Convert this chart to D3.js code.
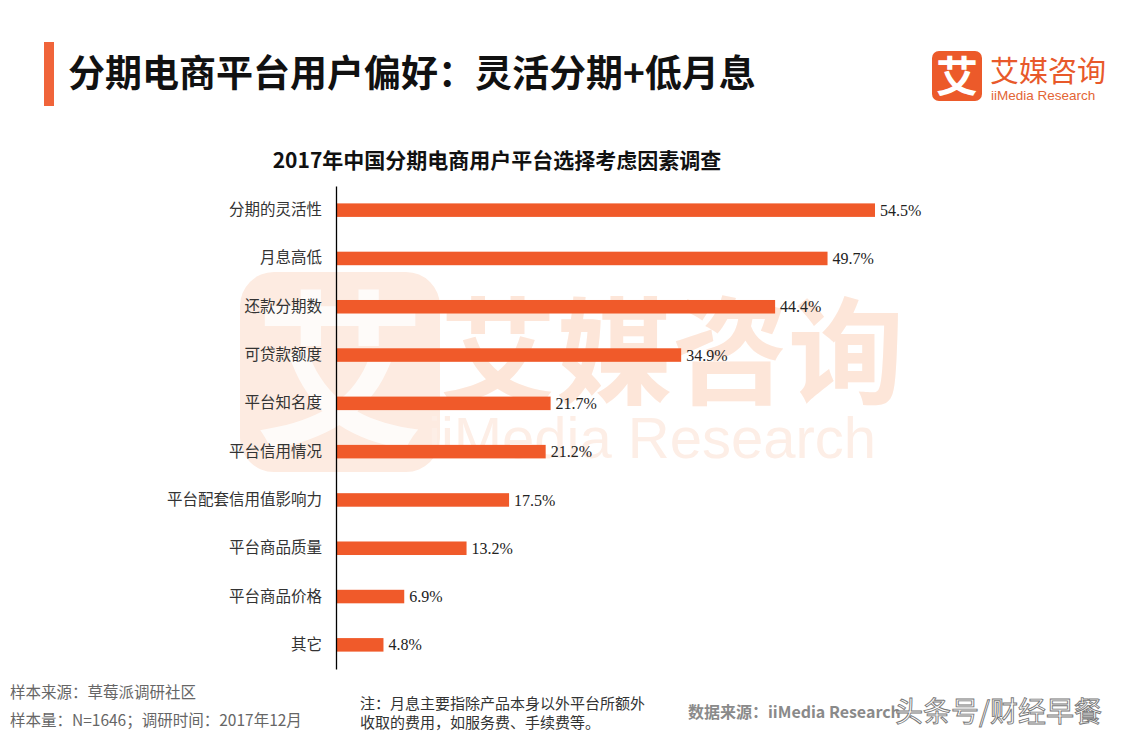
<!DOCTYPE html>
<html lang="zh">
<head>
<meta charset="utf-8">
<title>分期电商平台用户偏好</title>
<script src="https://d3js.org/d3.v7.min.js"></script>
<style>
  body { margin: 0; background: #fff; }
  svg { display: block; font-family: "Noto Sans CJK SC", "Noto Sans", sans-serif; }
</style>
</head>
<body>
<script>
// 数据
var categories = ["分期的灵活性", "月息高低", "还款分期数", "可贷款额度", "平台知名度",
                  "平台信用情况", "平台配套信用值影响力", "平台商品质量", "平台商品价格", "其它"];
var values = [54.5, 49.7, 44.4, 34.9, 21.7, 21.2, 17.5, 13.2, 6.9, 4.8];

var w = 1133, h = 737;
var orange = "#f05a2a";

var svg = d3.select("body").append("svg")
    .attr("width", w)
    .attr("height", h);

// 背景水印 (很淡)
var wm = svg.append("g").attr("class", "watermark");
wm.append("rect")
    .attr("x", 240).attr("y", 272)
    .attr("width", 200).attr("height", 200)
    .attr("rx", 34)
    .attr("fill", "#fdebe1");
wm.append("text")
    .attr("x", 340).attr("y", 435)
    .attr("text-anchor", "middle")
    .attr("font-size", 170).attr("font-weight", 700)
    .attr("fill", "#fff").attr("opacity", 0.8)
    .text("艾");
wm.append("text")
    .attr("x", 440).attr("y", 395)
    .attr("font-size", 116).attr("font-weight", 700)
    .attr("fill", "#fde6d9")
    .text("艾媒咨询");
wm.append("text")
    .attr("x", 428).attr("y", 458)
    .attr("font-family", "Liberation Sans, Arial, sans-serif")
    .attr("font-size", 58)
    .attr("fill", "#fdeee6")
    .text("iiMedia Research");

// 标题
svg.append("rect")
    .attr("x", 44).attr("y", 42)
    .attr("width", 10).attr("height", 64)
    .attr("fill", "#f0643a");
svg.append("text")
    .attr("x", 68).attr("y", 87)
    .attr("font-size", 37).attr("font-weight", 700)
    .attr("fill", "#111")
    .text("分期电商平台用户偏好：灵活分期+低月息");

// Logo
svg.append("rect")
    .attr("x", 932).attr("y", 51)
    .attr("width", 50).attr("height", 50)
    .attr("rx", 7)
    .attr("fill", "#ec5a2a");
svg.append("text")
    .attr("x", 957).attr("y", 92)
    .attr("text-anchor", "middle")
    .attr("font-size", 42).attr("font-weight", 700)
    .attr("fill", "#fff")
    .text("艾");
svg.append("text")
    .attr("x", 990).attr("y", 82)
    .attr("font-size", 29)
    .attr("fill", "#e8592b")
    .text("艾媒咨询");
svg.append("text")
    .attr("x", 991).attr("y", 100)
    .attr("font-family", "Liberation Sans, Arial, sans-serif")
    .attr("font-size", 13.5)
    .attr("fill", "#e36535")
    .text("iiMedia Research");

// 图表标题
svg.append("text")
    .attr("x", 497).attr("y", 168)
    .attr("text-anchor", "middle")
    .attr("font-size", 21).attr("font-weight", 700)
    .attr("fill", "#111")
    .text("2017年中国分期电商用户平台选择考虑因素调查");

// 比例尺
var x0 = 336;
var xScale = d3.scaleLinear()
    .domain([0, 60])
    .range([x0, x0 + 593.4]);

var yScale = d3.scaleBand()
    .domain(categories)
    .range([186, 669])
    .paddingInner(0.72)
    .paddingOuter(0.36);

// 条形
svg.selectAll("rect.bar")
    .data(values)
    .enter()
    .append("rect")
    .attr("class", "bar")
    .attr("x", xScale(0))
    .attr("y", function(d, i) { return yScale(categories[i]); })
    .attr("width", function(d) { return xScale(d) - xScale(0); })
    .attr("height", yScale.bandwidth())
    .attr("fill", orange);

// 数值标签
svg.selectAll("text.val")
    .data(values)
    .enter()
    .append("text")
    .attr("class", "val")
    .attr("x", function(d) { return xScale(d) + 5; })
    .attr("y", function(d, i) { return yScale(categories[i]) + yScale.bandwidth() / 2; })
    .attr("dy", "0.35em")
    .attr("font-family", "Liberation Serif, DejaVu Serif, serif")
    .attr("font-size", 16)
    .attr("fill", "#222")
    .text(function(d) { return d.toFixed(1) + "%"; });

// 纵轴
var yAxis = d3.axisLeft(yScale)
    .tickSize(0)
    .tickPadding(14);

var gy = svg.append("g")
    .attr("transform", "translate(" + x0 + ",0)")
    .call(yAxis);
gy.select(".domain").attr("stroke", "#000").attr("stroke-width", 1.3);
gy.selectAll(".tick text")
    .attr("font-family", "Noto Sans CJK SC, sans-serif")
    .attr("font-size", 15.5)
    .attr("fill", "#333");

// 底部说明
var foot = svg.append("g")
    .attr("font-size", 15.5)
    .attr("fill", "#666");
foot.append("text").attr("x", 10).attr("y", 698).text("样本来源：草莓派调研社区");
foot.append("text").attr("x", 10).attr("y", 726).text("样本量：N=1646；调研时间：2017年12月");

var note = svg.append("g")
    .attr("font-size", 15)
    .attr("fill", "#333");
note.append("text").attr("x", 360).attr("y", 709).text("注：月息主要指除产品本身以外平台所额外");
note.append("text").attr("x", 360).attr("y", 728).text("收取的费用，如服务费、手续费等。");

svg.append("text")
    .attr("x", 688).attr("y", 718)
    .attr("font-size", 16).attr("font-weight", 700)
    .attr("fill", "#8a8a8a")
    .text("数据来源：iiMedia Research");

svg.append("text")
    .attr("x", 895).attr("y", 722)
    .attr("font-size", 28)
    .attr("fill", "#fff")
    .attr("stroke", "#777")
    .attr("stroke-width", 0.9)
    .text("头条号/财经早餐");
</script>
</body>
</html>
